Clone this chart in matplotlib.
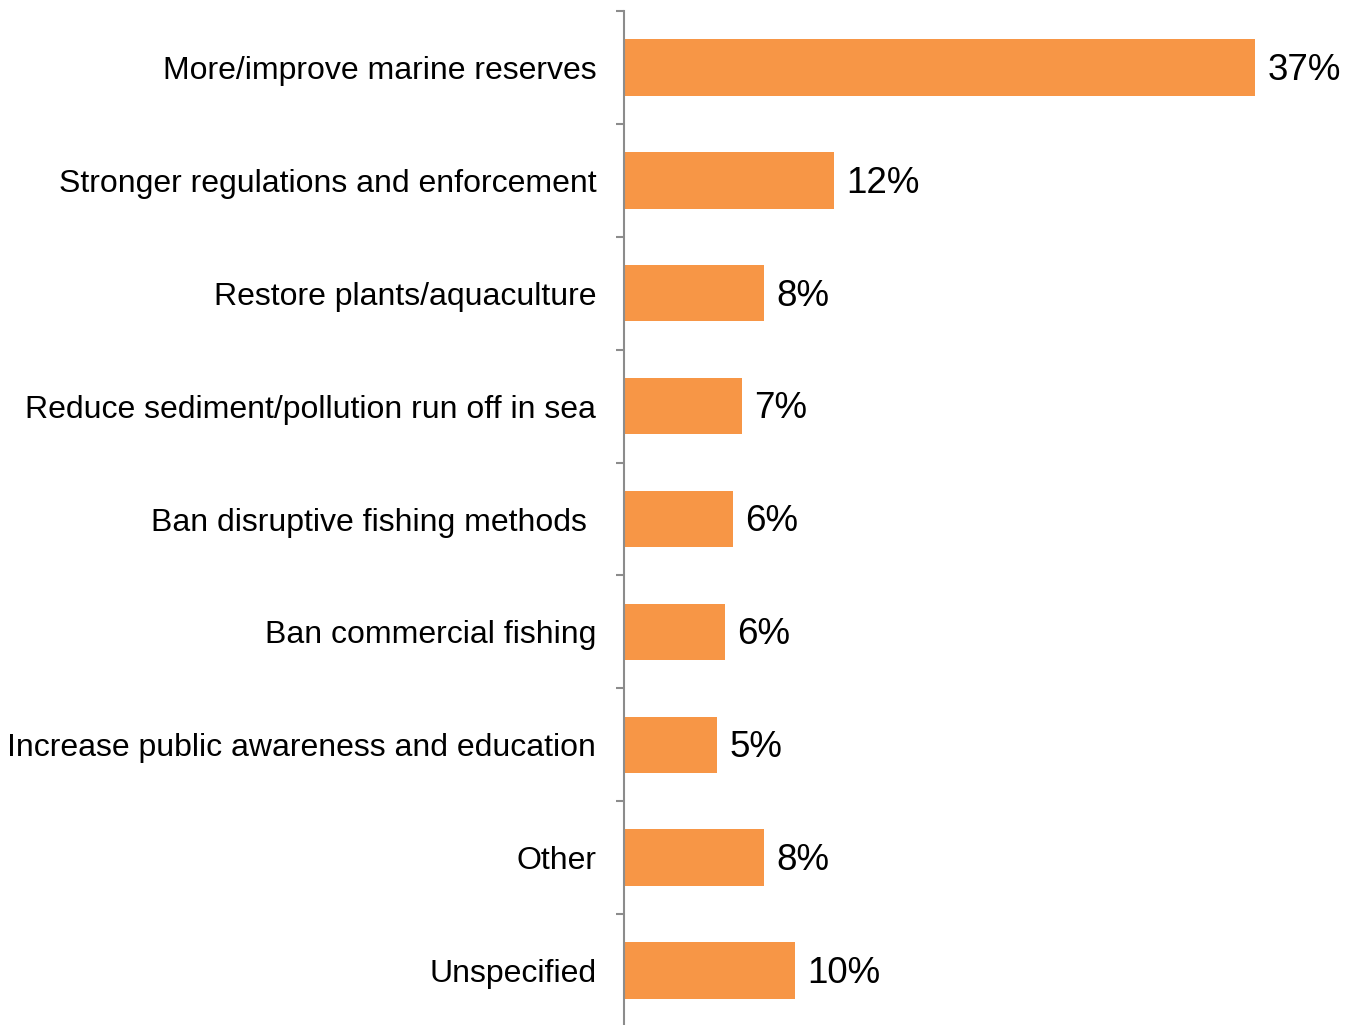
import matplotlib.pyplot as plt
import numpy as np

plt.rcParams['font.family'] = ['Liberation Sans', 'DejaVu Sans']

categories = ['More/improve marine reserves', 'Stronger regulations and enforcement',
              'Restore plants/aquaculture', 'Reduce sediment/pollution run off in sea',
              'Ban disruptive fishing methods ', 'Ban commercial fishing',
              'Increase public awareness and education', 'Other', 'Unspecified']
values = [37.0, 12.3, 8.2, 6.9, 6.4, 5.9, 5.45, 8.2, 10.0]
labels = ['37%', '12%', '8%', '7%', '6%', '6%', '5%', '8%', '10%']

fig = plt.figure(figsize=(13.55, 10.25), dpi=100)
ax = fig.add_axes([624 / 1355, -2 / 1025, 682 / 1355, 1016 / 1025])

y = np.arange(len(categories))
ax.barh(y, values, height=0.5, color='#F79646')
for yi, v, lab in zip(y, values, labels):
    ax.annotate(lab, (v, yi), xytext=(9, -2), textcoords='offset points',
                va='center', ha='left', fontsize=26.5)

ax.set_xlim(0, 40)
ax.set_ylim(len(categories) - 0.5, -0.5)
ax.set_yticks(y)
ax.set_yticklabels(categories, fontsize=23)
ax.set_yticks(np.arange(len(categories)) - 0.5, minor=True)
ax.tick_params(axis='y', which='major', length=0, pad=20)
ax.tick_params(axis='y', which='minor', length=6, width=1.5, color='#8c8c8c')
ax.set_xticks([])
for s in ['top', 'right', 'bottom']:
    ax.spines[s].set_visible(False)
ax.spines['left'].set_color('#8c8c8c')
ax.spines['left'].set_linewidth(1.5)

fig.savefig('out.png', dpi=100)
